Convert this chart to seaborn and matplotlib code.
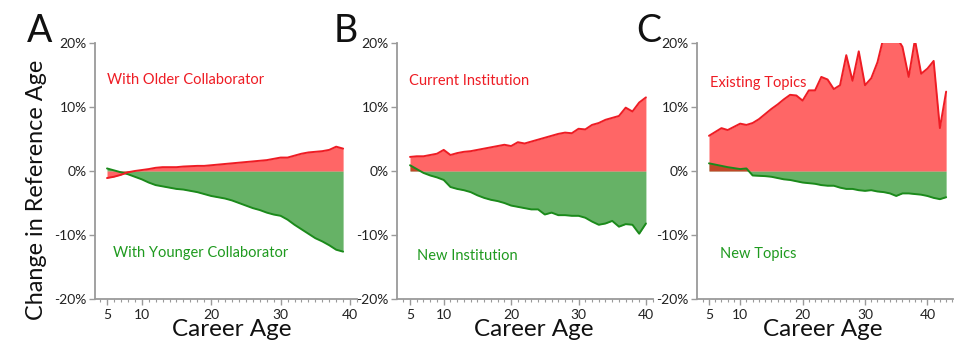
import numpy as np
import pandas as pd
import matplotlib
matplotlib.use("Agg")
import matplotlib.pyplot as plt
import seaborn as sns

# ---------------- data (percent change in reference age) ----------------
ages_a = list(range(5, 40))
older_collab = [-1.1, -0.9, -0.6, -0.2, 0.0, 0.15, 0.3, 0.5, 0.6, 0.6, 0.6, 0.7, 0.75, 0.8, 0.8,
                0.9, 1.0, 1.1, 1.2, 1.3, 1.4, 1.5, 1.6, 1.7, 1.9, 2.1, 2.1, 2.4, 2.7, 2.9,
                3.0, 3.1, 3.3, 3.8, 3.5]
younger_collab = [0.4, 0.1, -0.2, -0.5, -0.9, -1.3, -1.8, -2.2, -2.4, -2.6, -2.8, -2.9, -3.1, -3.3, -3.6,
                  -3.9, -4.1, -4.3, -4.6, -5.0, -5.4, -5.8, -6.1, -6.5, -6.8, -7.0, -7.6, -8.4, -9.1, -9.8,
                  -10.5, -11.0, -11.6, -12.3, -12.6]

ages_b = list(range(5, 41))
current_inst = [2.2, 2.3, 2.3, 2.5, 2.7, 3.3, 2.5, 2.8, 3.0, 3.1, 3.3, 3.5, 3.7, 3.9, 4.1, 3.9,
                4.5, 4.3, 4.6, 4.9, 5.2, 5.5, 5.8, 6.0, 5.9, 6.6, 6.5, 7.2, 7.5, 8.0, 8.3, 8.6,
                9.9, 9.3, 10.7, 11.5]
new_inst = [0.9, 0.3, -0.3, -0.7, -1.0, -1.4, -2.5, -2.8, -3.0, -3.3, -3.8, -4.2, -4.5, -4.7, -5.0,
            -5.4, -5.6, -5.8, -6.0, -6.0, -6.8, -6.5, -6.9, -6.9, -7.0, -7.0, -7.3, -7.9, -8.4,
            -8.2, -7.8, -8.7, -8.3, -8.4, -9.8, -8.2]

ages_c = list(range(5, 44))
existing_topics = [5.5, 6.1, 6.7, 6.4, 6.9, 7.4, 7.2, 7.5, 8.1, 8.9, 9.7, 10.4, 11.2, 11.9, 11.8,
                   11.0, 12.6, 12.6, 14.7, 14.3, 12.8, 13.4, 18.1, 14.1, 18.7, 13.4, 14.5, 17.0,
                   21.0, 22.0, 21.0, 19.4, 14.7, 20.5, 15.2, 16.0, 17.2, 6.7, 12.4]
new_topics = [1.2, 1.0, 0.8, 0.6, 0.45, 0.3, 0.4, -0.7, -0.75, -0.8, -0.9, -1.1, -1.3, -1.4, -1.6,
              -1.8, -1.9, -2.0, -2.2, -2.3, -2.3, -2.6, -2.8, -2.8, -3.0, -3.1, -3.0, -3.2, -3.3,
              -3.5, -3.9, -3.5, -3.5, -3.6, -3.7, -3.9, -4.2, -4.4, -4.1]

panel_letters = ["A", "B", "C"]
red_labels = ["With Older Collaborator", "Current Institution", "Existing Topics"]
green_labels = ["With Younger Collaborator", "New Institution", "New Topics"]
y_ticks = [-20, -10, 0, 10, 20]
y_ticklabels = ["-20%", "-10%", "0%", "10%", "20%"]
x_ticks = [5, 10, 20, 30, 40]

# ---------------- style ----------------
sns.set_style("white")
plt.rcParams["font.family"] = ["Lato", "DejaVu Sans"]
plt.rcParams["xtick.bottom"] = True
plt.rcParams["ytick.left"] = True

W, H = 974, 349
fig = plt.figure(figsize=(W / 100, H / 100), dpi=100)

RED_FILL = "#ff0000"
GREEN_FILL = "#008000"
RED_LINE = "#ee1c24"
GREEN_LINE = "#1b8a1b"
SPINE = "#9a9a9a"

panels = [
    dict(ages=ages_a, red=older_collab, green=younger_collab, left=95, right=357, xlim=(3.27, 41.0),
         letter_x=27, red_xy=(107, 80), green_xy=(113, 253), xlabel_x=232),
    dict(ages=ages_b, red=current_inst, green=new_inst, left=397, right=653, xlim=(3.07, 41.05),
         letter_x=334, red_xy=(409, 81), green_xy=(417, 256), xlabel_x=534),
    dict(ages=ages_c, red=existing_topics, green=new_topics, left=697, right=953, xlim=(3.08, 44.1),
         letter_x=636, red_xy=(710, 83), green_xy=(720, 254), xlabel_x=823),
]

top_px, bot_px = 43, 299
for i, p in enumerate(panels):
    ax = fig.add_axes([p["left"] / W, 1 - bot_px / H, (p["right"] - p["left"]) / W, (bot_px - top_px) / H])
    df = pd.DataFrame({"age": p["ages"], "red": p["red"], "green": p["green"]})
    ax.fill_between(df["age"], 0, df["green"], color=GREEN_FILL, alpha=0.6, linewidth=0)
    ax.fill_between(df["age"], 0, df["red"], color=RED_FILL, alpha=0.6, linewidth=0)
    sns.lineplot(data=df, x="age", y="green", ax=ax, color=GREEN_LINE, linewidth=1.4)
    sns.lineplot(data=df, x="age", y="red", ax=ax, color=RED_LINE, linewidth=1.4)

    ax.set_xlim(*p["xlim"])
    ax.set_ylim(-20, 20)
    ax.set_yticks(y_ticks)
    ax.set_yticklabels(y_ticklabels)
    ax.set_xticks(x_ticks)
    ax.set_xticklabels([str(t) for t in x_ticks])
    ax.set_xticks(np.arange(4, int(p["xlim"][1]) + 1, 1), minor=True)
    ax.tick_params(axis="both", which="major", direction="out", length=4, width=1, color=SPINE,
                   labelsize=10, labelcolor="#222222", pad=2, bottom=True, left=True)
    ax.tick_params(axis="x", which="minor", direction="out", length=2.2, width=0.8, color=SPINE,
                   bottom=True)
    ax.tick_params(axis="x", which="major", pad=3)
    for s in ["top", "right"]:
        ax.spines[s].set_visible(False)
    for s in ["left", "bottom"]:
        ax.spines[s].set_color(SPINE)
        ax.spines[s].set_linewidth(1.3)
    ax.set_ylabel("")
    ax.set_xlabel("")
    ax.patch.set_alpha(0)

    fig.text(p["xlabel_x"] / W, 1 - 330 / H, "Career Age", fontsize=17.5, color="#111111",
             ha="center", va="center")
    if i == 0:
        fig.text(37 / W, 1 - 190 / H, "Change in Reference Age", fontsize=16.8, color="#111111",
                 ha="center", va="center", rotation=90)
    fig.text(p["letter_x"] / W, 1 - 42 / H, panel_letters[i], fontsize=27, color="#111111",
             ha="left", va="baseline")
    fig.text(p["red_xy"][0] / W, 1 - p["red_xy"][1] / H, red_labels[i], fontsize=10.5,
             color="#ee1c24", ha="left", va="center")
    fig.text(p["green_xy"][0] / W, 1 - p["green_xy"][1] / H, green_labels[i], fontsize=10.5,
             color="#1f9a1f", ha="left", va="center")

fig.savefig("out.png", dpi=100)
